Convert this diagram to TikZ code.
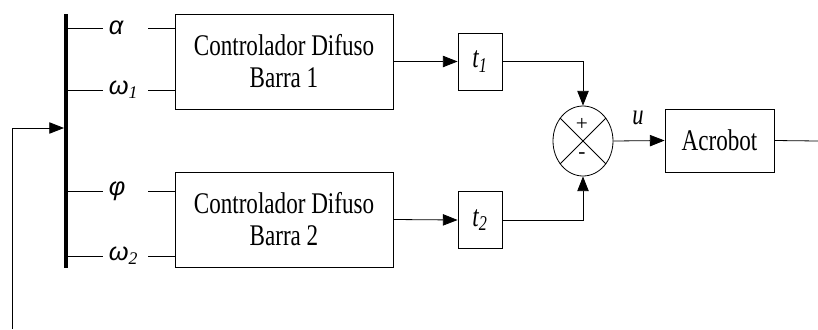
\documentclass[tikz,border=0pt]{standalone}
\usepackage{fontspec}
\setmainfont{Liberation Serif}
\newfontfamily\boxfont[FakeStretch=0.77]{Liberation Serif}
\newfontfamily\grkfont{Liberation Sans}
\usetikzlibrary{positioning,arrows.meta,calc,shapes.geometric}

\begin{document}
\begin{tikzpicture}[
  x=0.75pt, y=-0.75pt, line width=0.6pt,
  >={Triangle[length=11pt,width=8.5pt]},
  blk/.style={draw, inner sep=0pt, align=center, font=\fontsize{22.5}{24}\selectfont\boxfont},
  ctrl/.style={blk, minimum width=163.5pt, minimum height=71.25pt},
  gain/.style={blk, minimum width=33pt, minimum height=42.75pt},
  sig/.style={inner sep=0pt, inner xsep=4.4pt, text width=25pt, align=left, minimum height=14pt, font=\fontsize{19}{19}\selectfont\grkfont\itshape},
  sumnode/.style={draw, ellipse, inner sep=0pt, minimum width=45pt, minimum height=52.5pt}
]
\useasboundingbox (0,0) rectangle (818,329);
\coordinate (bustop) at (66,14);
\coordinate (busbot) at (66,268);
\coordinate (busin) at (64,128);
\coordinate (fb) at (12,329);
\coordinate (out) at (818,141);

\node[ctrl] (box1) at (284,61.5) {Controlador Difuso\\Barra 1};
\node[ctrl] (box2) at (284,219.5) {Controlador Difuso\\Barra 2};

\node[sig] (alpha) at (125.5,28) {α};
\node[sig] (w1) at (125.5,90) {ω\textsubscript{\rmfamily 1}};
\node[sig] (phi) at (125.5,191) {φ};
\node[sig] (w2) at (125.5,256) {ω\textsubscript{\rmfamily 2}};

\node[gain] (t1) at (480,61.5) {\itshape t\textsubscript{1}};
\node[gain] (t2) at (480,220) {\itshape t\textsubscript{2}};

\node[sumnode] (sum) at (583,141) {};
\node[font=\fontsize{16}{16}\selectfont, inner sep=0pt] (plus) at (582,124) {+};
\node[font=\fontsize{16}{16}\selectfont, inner sep=0pt] (minus) at (582,156) {-};
\node[font=\fontsize{22}{22}\selectfont\boxfont\itshape, inner sep=0pt] (u) at (638,118) {u};

\node[blk, minimum width=81.75pt, minimum height=47.25pt] (acro) at (719.5,140.5) {Acrobot};

% bus and feedback
\draw[line width=3pt] (bustop) -- (busbot);
\draw[->] (fb) |- (busin);
\foreach \s in {alpha,w1,phi,w2}
  \draw (\s.west -| bustop) -- (\s.west);
\foreach \s/\b in {alpha/box1,w1/box1,phi/box2,w2/box2}
  \draw (\s.east) -- (\s.east -| \b.west);

% controllers to sum
\draw[->] (box1.east) -- (t1.west);
\draw[->] (box2.east) -- (t2.west);
\draw[->] (t1.east) -| (sum.north);
\draw[->] (t2.east) -| (sum.south);
\draw (sum.45) -- (sum.225);
\draw (sum.135) -- (sum.315);
\draw[->] (sum.east) -- (acro.west);
\draw (acro.east) -- (out);
\end{tikzpicture}
\end{document}
